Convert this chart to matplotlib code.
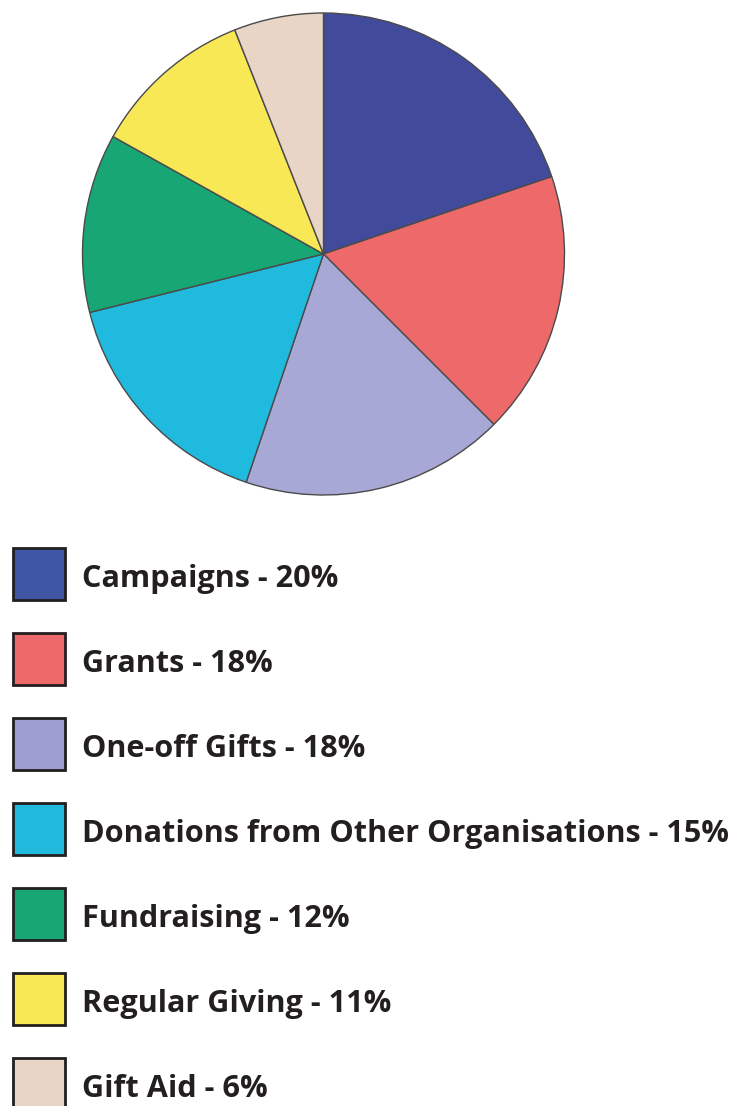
import matplotlib.pyplot as plt
from matplotlib.patches import Rectangle

# Income sources: labelled percent and slice share
labels = ['Campaigns', 'Grants', 'One-off Gifts', 'Donations from Other Organisations',
          'Fundraising', 'Regular Giving', 'Gift Aid']
label_pct = [20, 18, 18, 15, 12, 11, 6]
slice_share = [19.8, 17.7, 17.7, 15.9, 12.0, 10.9, 6.0]
pie_colors = ['#424A9B', '#EE6A6A', '#A8A8D6', '#1FBADD', '#17A674', '#F8E855', '#E8D5C6']
key_colors = ['#3F56A4', '#EE6A6A', '#9C9FD0', '#1FBADD', '#17A674', '#F8E855', '#E8D5C6']

W, H = 734, 1106
fig = plt.figure(figsize=(W / 100, H / 100), dpi=100)
ax = fig.add_axes([0, 0, 1, 1])

# Pie chart, clockwise from the top
ax.pie(slice_share, colors=pie_colors, startangle=90, counterclock=False,
       center=(323.5, H - 254), radius=241, frame=True,
       wedgeprops=dict(edgecolor='#4a4a4a', linewidth=1.0))
ax.set_xlim(0, W)
ax.set_ylim(0, H)
ax.set_aspect('equal')
ax.axis('off')

# Key below the pie
texts = []
for i, (lab, val, col) in enumerate(zip(labels, label_pct, key_colors)):
    top = 548 + i * 85
    ax.add_patch(Rectangle((13, H - top - 52), 52, 52, facecolor=col,
                           edgecolor='#231F20', linewidth=2.0))
    t = ax.text(82, H - top - 39, f'{lab} - {val}%', fontsize=20, fontweight='bold',
                family='Open Sans', color='#231F20', va='baseline', ha='left')
    texts.append(t)

# fit the longest line to the reference width (~648 px)
r = fig.canvas.get_renderer()
wmax = max(t.get_window_extent(r).width for t in texts)
for t in texts:
    t.set_fontsize(20 * 648 / wmax)

fig.savefig('out.png', dpi=100)
